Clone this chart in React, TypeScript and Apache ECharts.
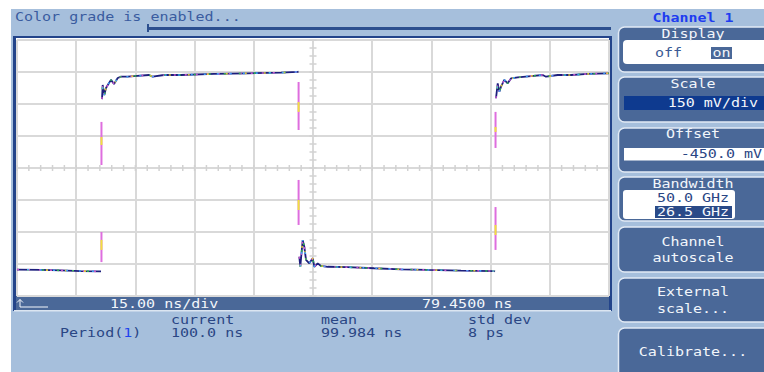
import React, { useEffect, useRef } from "react";
import * as echarts from "echarts";

// ---- scope settings ----
const TIME_PER_DIV = 15; // ns/div
const TIME_CENTER = 79.45; // ns
const TIME_LEFT = TIME_CENTER - 5 * TIME_PER_DIV; // 4.45 ns
const VOLT_PER_DIV = 150; // mV/div
const VOLT_OFFSET = -450; // mV
const X_DIVS = 10;
const Y_DIVS = 8;

// ---- waveform (time ns, mV) ----
const lowLevel1 = [
  [4.45, -926], [10.53, -928], [15.6, -930], [20.67, -933], [25.73, -935],
];
const highLevel1 = [
  [25.99, -127], [26.16, -61], [26.57, -108], [27.0, -75], [27.76, -52], [28.27, -37],
  [29.03, -56], [29.97, -28], [30.8, -22], [32.5, -22], [34.1, -19], [37.9, -14],
  [38.83, -22], [41.7, -14], [46.0, -14], [54.4, -9], [62.98, -6], [71.34, -3],
  [75.57, 1], [75.78, 2],
];
const lowLevel2 = [
  [75.98, -866], [76.23, -913], [76.84, -788], [77.25, -819], [77.68, -881],
  [78.51, -897], [79.38, -873], [79.78, -913], [80.64, -897], [81.48, -909],
  [83.18, -913], [88.24, -915], [94.9, -920], [101.75, -925], [108.51, -928],
  [116.95, -931], [125.31, -933], [125.57, -935],
];
const highLevel2 = [
  [125.82, -123], [126.25, -53], [126.66, -92], [127.09, -69], [127.92, -37],
  [128.78, -53], [129.62, -30], [131.32, -25], [134.69, -19], [137.65, -14],
  [138.49, -22], [141.45, -14], [144.82, -14], [149.05, -9], [154.45, -6],
];
// sparse hits on the fast edges: [time, top mV, bottom mV]
const edgeSegments = [
  [25.85, -234, -436], [25.85, -750, -891],
  [75.8, -47, -272], [75.8, -506, -717],
  [125.7, -187, -356], [125.7, -633, -834],
];
const edgeHotSpots = [
  [25.85, -305, -342], [25.85, -787, -834],
  [75.8, -141, -187], [75.8, -600, -647],
  [125.7, -258, -281], [125.7, -717, -764],
];

// ---- readouts ----
const topMessage = "Color grade is enabled...";
const timeScaleText = "15.00 ns/div";
const timePosText = "79.4500 ns";
const measName = "Period(";
const measSource = "1";
const measHeaders = ["current", "mean", "std dev"];
const measValues = ["100.0 ns", "99.984 ns", "8 ps"];
const channelTitle = "Channel 1";
const scaleText = "150 mV/div";
const offsetText = "-450.0 mV";
const bandwidthOptions = ["50.0 GHz", "26.5 GHz"];

const MONO = '"DejaVu Sans Mono", "Liberation Mono", monospace';
const BG = "#a6bfdc";
const BTN = "#4a6898";
const NAVY_TXT = "#2a4684";
const WHITE_TXT = "#f2f6fb";

function label(
  text: string, x: number, y: number, fill: string,
  align = "left", size = 12, weight = "normal", sx = 1.25
) {
  return {
    type: "text", x, y, scaleX: sx, z: 60, silent: true,
    style: {
      text, x: 0, y: 0, fill, font: `${weight} ${size}px ${MONO}`,
      align, textAlign: align, verticalAlign: "middle", textVerticalAlign: "middle",
    },
  };
}
function rect(x: number, y: number, w: number, h: number, fill: string, z: number, r = 0, stroke?: string, lw = 0) {
  return {
    type: "rect", z, silent: true,
    shape: { x, y, width: w, height: h, r },
    style: { fill, stroke: stroke || "none", lineWidth: lw },
  };
}

const rel = (d: number[][]) => d.map(([t, v]) => [t - TIME_LEFT, v]);

export default function App() {
  const ref = useRef<HTMLDivElement>(null);
  useEffect(() => {
    if (!ref.current) return;
    const chart = echarts.init(ref.current, null, { renderer: "svg" });

    const xMax = X_DIVS * TIME_PER_DIV;
    const yMin = VOLT_OFFSET - (Y_DIVS / 2) * VOLT_PER_DIV;
    const yMax = VOLT_OFFSET + (Y_DIVS / 2) * VOLT_PER_DIV;

    const xMinor: number[][] = [];
    for (let i = 0; i <= X_DIVS * 5; i++) xMinor.push([(i * TIME_PER_DIV) / 5, VOLT_OFFSET]);
    const yMinor: number[][] = [];
    for (let i = 0; i <= Y_DIVS * 4; i++) yMinor.push([xMax / 2, yMin + (i * VOLT_PER_DIV) / 4]);

    const segments = [lowLevel1, highLevel1, lowLevel2, highLevel2];
    const series: any[] = [];
    // crosshair minor ticks
    series.push({
      type: "custom", silent: true, z: 1, data: xMinor,
      renderItem: (_p: any, api: any) => {
        const p = api.coord([api.value(0), api.value(1)]);
        return { type: "line", shape: { x1: p[0], y1: p[1] - 3, x2: p[0], y2: p[1] + 3 }, style: { stroke: "#d2d2d2", lineWidth: 1.5 } };
      },
    });
    series.push({
      type: "custom", silent: true, z: 1, data: yMinor,
      renderItem: (_p: any, api: any) => {
        const p = api.coord([api.value(0), api.value(1)]);
        return { type: "line", shape: { x1: p[0] - 3.5, y1: p[1], x2: p[0] + 3.5, y2: p[1] }, style: { stroke: "#d2d2d2", lineWidth: 1.5 } };
      },
    });
    const edgeSeries = (data: number[][], color: string) => ({
      type: "custom", silent: true, z: 5,
      data: data.map(([t, a, b]) => [t - TIME_LEFT, a, b]),
      encode: { x: 0, y: [1, 2] },
      renderItem: (_p: any, api: any) => {
        const a = api.coord([api.value(0), api.value(1)]);
        const b = api.coord([api.value(0), api.value(2)]);
        return { type: "line", shape: { x1: a[0], y1: a[1], x2: b[0], y2: b[1] }, style: { stroke: color, lineWidth: 2 } };
      },
    });
    series.push(edgeSeries(edgeSegments, "#de6ede"));
    series.push(edgeSeries(edgeHotSpots, "#f0e040"));

    const speckles = [
      { color: "#d45cd4", dash: [2, 9], off: 0 },
      { color: "#2fbf4f", dash: [2, 13], off: 5 },
      { color: "#f0d830", dash: [2, 17], off: 9 },
      { color: "#3fa8ff", dash: [2, 11], off: 3 },
    ];
    segments.forEach((seg) => {
      series.push({
        type: "line", data: rel(seg), symbol: "none", silent: true, z: 6,
        lineStyle: { color: "#1d1f7c", width: 1.8 },
      });
      speckles.forEach((s) => {
        series.push({
          type: "line", data: rel(seg), symbol: "none", silent: true, z: 7,
          lineStyle: { color: s.color, width: 1.6, type: s.dash, dashOffset: s.off, opacity: 0.9 },
        });
      });
    });

    const graphic: any[] = [
      rect(11, 9, 760, 370, BG, -20),
      label(topMessage, 15, 17, "#3a5ca0"),
      rect(148, 27, 463, 3, "#2c4f8f", -10),
      rect(147, 24, 2, 8, "#2c4f8f", -10),
      // frame
      rect(13, 36, 599, 275, "#23448a", -10),
      rect(16, 38, 593, 258, "#ffffff", -9),
      rect(16, 296, 593, 14, BTN, -9),
      rect(14, 310, 597, 1.5, "#dbe5f1", -9),
      {
        type: "polyline", z: 60, silent: true,
        shape: { points: [[20, 299.5], [20, 307], [48, 307]] },
        style: { stroke: WHITE_TXT, lineWidth: 1, fill: "none" },
      },
      {
        type: "polyline", z: 60, silent: true,
        shape: { points: [[17, 302.5], [20, 299.5], [23, 302.5]] },
        style: { stroke: WHITE_TXT, lineWidth: 1, fill: "none" },
      },
      label(timeScaleText, 110, 304, WHITE_TXT),
      label(timePosText, 422, 304, WHITE_TXT),
      // measurements
      label(measHeaders[0], 171, 320, NAVY_TXT),
      label(measHeaders[1], 321, 320, NAVY_TXT),
      label(measHeaders[2], 468, 320, NAVY_TXT),
      label(measName, 60, 333, NAVY_TXT),
      label(measSource, 60 + 7 * 9.03, 333, "#1f44ee"),
      label(")", 60 + 8 * 9.03, 333, NAVY_TXT),
      label(measValues[0], 171, 333, NAVY_TXT),
      label(measValues[1], 321, 333, NAVY_TXT),
      label(measValues[2], 468, 333, NAVY_TXT),
      // right panel
      label(channelTitle, 693, 17, "#1e3cf0", "center", 13, "bold", 1.15),
    ];
    const buttons = [[27, 45], [77, 45], [128, 44], [177, 44], [227, 45], [278, 44], [328, 52]];
    buttons.forEach(([y, h]) => graphic.push(rect(618.5, y, 160, h, BTN, -5, 6, "#e2eaf5", 1.5)));
    graphic.push(
      label("Display", 693, 33.5, WHITE_TXT, "center"),
      rect(623, 40, 150, 24, "#ffffff", -4, 4),
      label("off", 655, 53, "#3b5a95"),
      rect(711, 47, 21, 12, BTN, -3),
      label("on", 721.5, 53, WHITE_TXT, "center"),
      label("Scale", 693, 84, WHITE_TXT, "center"),
      rect(624, 96, 150, 14, "#0e3a8f", -4),
      label(scaleText, 758, 103, WHITE_TXT, "right"),
      label("Offset", 693, 134, WHITE_TXT, "center"),
      rect(624, 148, 150, 12.5, "#ffffff", -4),
      label(offsetText, 762, 154, NAVY_TXT, "right"),
      label("Bandwidth", 693, 183.5, WHITE_TXT, "center"),
      rect(623, 190, 112, 29, "#ffffff", -4, 3),
      label(bandwidthOptions[0], 693, 198, NAVY_TXT, "center"),
      rect(655, 206, 77, 12, "#2a4a88", -3),
      label(bandwidthOptions[1], 693, 212, WHITE_TXT, "center"),
      label("Channel", 693, 242, WHITE_TXT, "center"),
      label("autoscale", 693, 258, WHITE_TXT, "center"),
      label("External", 693, 292, WHITE_TXT, "center"),
      label("scale...", 693, 309, WHITE_TXT, "center"),
      label("Calibrate...", 693, 352, WHITE_TXT, "center"),
    );

    chart.setOption({
      animation: false,
      backgroundColor: "#ffffff",
      grid: { left: 17, top: 40, width: 592, height: 256, show: false },
      xAxis: {
        type: "value", min: 0, max: xMax, interval: TIME_PER_DIV,
        axisLine: { show: false }, axisTick: { show: false }, axisLabel: { show: false },
        splitLine: { show: true, lineStyle: { color: "#d9d9d9", width: 2 } },
      },
      yAxis: {
        type: "value", min: yMin, max: yMax, interval: VOLT_PER_DIV,
        axisLine: { show: false }, axisTick: { show: false }, axisLabel: { show: false },
        splitLine: { show: true, lineStyle: { color: "#d9d9d9", width: 2 } },
      },
      graphic,
      series,
    });
    return () => chart.dispose();
  }, []);
  return <div ref={ref} style={{ position: "absolute", left: 0, top: 0, width: 764, height: 372 }} />;
}
